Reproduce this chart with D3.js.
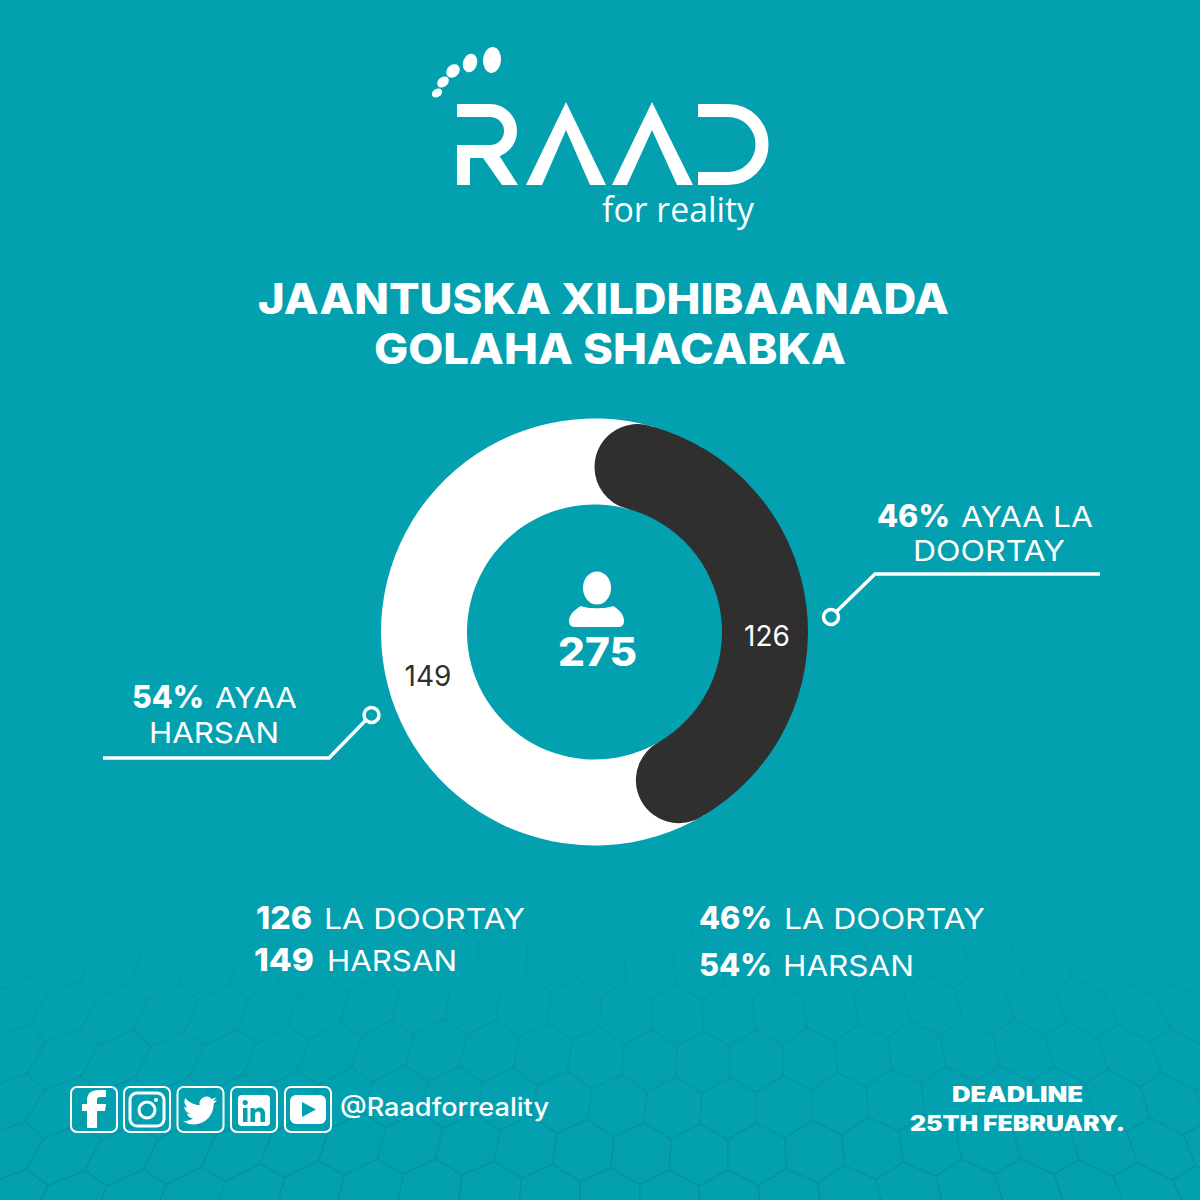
<!DOCTYPE html>
<html><head><meta charset="utf-8">
<script src="https://cdn.jsdelivr.net/npm/d3@7"></script>
<style>html,body{margin:0;padding:0;background:#03a0b0}svg{display:block}text{font-family:Inter,sans-serif}</style>
</head><body><div id="c"></div>
<script>
const categories = ["La doortay", "Harsan"];
const values = [126, 149];
const percents = [46, 54];
const total = 275;
const titleLines = ["JAANTUSKA XILDHIBAANADA", "GOLAHA SHACABKA"];
const colors = ["#2f2f2f", "#ffffff"];
const teal = "#03a0b0";

const svg = d3.select("#c").append("svg").attr("width", 1200).attr("height", 1200);
const defs = svg.append("defs");
const fade = defs.append("linearGradient").attr("id", "fade").attr("x1", 0).attr("x2", 0).attr("y1", 0).attr("y2", 1);
fade.append("stop").attr("offset", 0).attr("stop-color", "#000");
fade.append("stop").attr("offset", .5).attr("stop-color", "#888");
fade.append("stop").attr("offset", 1).attr("stop-color", "#fff");
defs.append("mask").attr("id", "hexmask").attr("maskUnits", "userSpaceOnUse")
  .attr("x", 0).attr("y", 860).attr("width", 1200).attr("height", 340)
  .append("rect").attr("x", 0).attr("y", 860).attr("width", 1200).attr("height", 340).attr("fill", "url(#fade)");
svg.append("rect").attr("width", 1200).attr("height", 1200).attr("fill", teal);

// decorative honeycomb texture
const hexPath = d3.path();
const warp = (x, y) => {
  const t = (y - 860) / 340;
  return [600 + (x - 600) * (0.82 + 0.3 * t) + 10 * Math.sin(y / 70), y + 6 * Math.sin(x / 90)];
};
const R = 31, W = R * Math.sqrt(3), H = R * 1.5;
for (let r = 0; r < 10; r++) for (let q = -3; q < 28; q++) {
  const hx = q * W + (r % 2 ? W / 2 : 0), hy = 870 + r * H;
  for (let k = 0; k < 6; k++) {
    const a = Math.PI / 3 * k - Math.PI / 2;
    const p = warp(hx + R * Math.cos(a), hy + R * Math.sin(a));
    k ? hexPath.lineTo(p[0], p[1]) : hexPath.moveTo(p[0], p[1]);
  }
  hexPath.closePath();
}
svg.append("path").attr("d", hexPath.toString()).attr("fill", "none").attr("stroke", "#078896")
  .attr("stroke-width", 1.2).attr("stroke-opacity", .7).attr("mask", "url(#hexmask)");

// logo
const logo = svg.append("g").attr("fill", "#fff");
[[492,60,9,13,5],[470,63,7,9.5,18],[453,71,6,7.5,45],[443,82,4.8,6.5,50],[437,93,4,5.5,60]].forEach(e =>
  logo.append("ellipse").attr("cx", e[0]).attr("cy", e[1]).attr("rx", e[2]).attr("ry", e[3])
    .attr("transform", `rotate(${e[4]} ${e[0]} ${e[1]})`));
const ls = logo.append("g").attr("fill", "none").attr("stroke", "#fff").attr("stroke-width", 13);
ls.append("path").attr("d", "M457,110.5 H490 A20.5,20.5 0 0 1 490,151.5 H463.5 V185");
ls.append("path").attr("d", "M698,110.5 H728 A34,34 0 0 1 728,178.5 H698");
logo.append("path").attr("d", "M481,155 L497,152 L518,185 H502 Z");
logo.append("path").attr("d", "M566,102 L526,185 H542 L566,130 L590,185 H606 Z");
logo.append("path").attr("d", "M652,102 L612,185 H627 L652,130 L677,185 H693 Z");
svg.append("text").attr("x", 602).attr("y", 222).attr("textLength", 152).attr("lengthAdjust", "spacingAndGlyphs")
  .style("font-family", "'Open Sans'").attr("font-size", 35).attr("fill", "#fff").text("for reality");

// helper for fitted text
function put(str, x0, x1, y, size, weight, fill) {
  return svg.append("text").attr("x", x0).attr("y", y).attr("textLength", x1 - x0)
    .attr("lengthAdjust", "spacingAndGlyphs").attr("font-size", size).attr("font-weight", weight)
    .attr("fill", fill || "#fff").text(str);
}

put(titleLines[0], 258, 949, 314, 43, 800);
put(titleLines[1], 374, 846, 364, 43, 800);

// donut
const cx = 594.5, cy = 632, rOuter = 213.5, rInner = 127.5;
const pie = d3.pie().sort(null).startAngle(0).endAngle(2 * Math.PI);
const arcs = pie(values);
const g = svg.append("g").attr("transform", `translate(${cx},${cy})`);
const dark = arcs[0];
// white band runs under both rounded ends of the dark segment
g.append("path").attr("d", d3.arc().innerRadius(rInner).outerRadius(rOuter)({startAngle: dark.endAngle - 0.28, endAngle: 2 * Math.PI + 0.28}))
  .attr("fill", colors[1]);
g.append("path").attr("d", d3.arc().innerRadius(rInner).outerRadius(rOuter).cornerRadius((rOuter - rInner) / 2)(dark))
  .attr("fill", colors[0]);

svg.append("text").attr("x", 767).attr("y", 646).attr("text-anchor", "middle").attr("font-size", 28).attr("font-weight", 400)
  .attr("fill", "#fff").text(values[0]);
svg.append("text").attr("x", 428).attr("y", 686).attr("text-anchor", "middle").attr("font-size", 28).attr("font-weight", 400)
  .attr("fill", "#2f2f2f").text(values[1]);

// centre icon + total
svg.append("ellipse").attr("cx", 597).attr("cy", 588).attr("rx", 14).attr("ry", 16.5).attr("fill", "#fff");
svg.append("path").attr("fill", "#fff")
  .attr("d", "M581,606 C587,609 607,609 613,606 C620,610 624,615 624,621 Q624,627 618,627 H575 Q569,627 569,621 C569,615 574,610 581,606 Z");
put(String(total), 558, 637, 666, 39, 800);

// callouts
const leader = svg.append("g").attr("fill", "none").attr("stroke", "#fff");
leader.append("path").attr("d", "M836,612 L875,574 H1100").attr("stroke-width", 3.5);
leader.append("circle").attr("cx", 831).attr("cy", 617).attr("r", 7.5).attr("stroke-width", 3.5);
leader.append("path").attr("d", "M366,720 L329,758 H103").attr("stroke-width", 3.5);
leader.append("circle").attr("cx", 371.5).attr("cy", 715).attr("r", 7.5).attr("stroke-width", 3.5);

put(percents[0] + "%", 877, 950, 527, 31, 800);
put("AYAA LA", 961, 1093, 527, 29, 400);
put("DOORTAY", 913, 1065, 561, 29, 400);
put(percents[1] + "%", 132, 204, 708, 31, 800);
put("AYAA", 215, 297, 708, 29, 400);
put("HARSAN", 149, 279, 743, 29, 400);

// summary
put(String(values[0]), 256, 312, 929, 31, 800);
put("LA DOORTAY", 324, 525, 929, 29, 400);
put(String(values[1]), 254, 314, 971, 31, 800);
put("HARSAN", 327, 457, 971, 29, 400);
put(percents[0] + "%", 699, 772, 929, 31, 800);
put("LA DOORTAY", 784, 985, 929, 29, 400);
put(percents[1] + "%", 699, 772, 976, 31, 800);
put("HARSAN", 783, 914, 976, 29, 400);

// social icons
const boxX = [71, 124, 177.5, 231, 285];
svg.selectAll("rect.box").data(boxX).join("rect").attr("class", "box")
  .attr("x", d => d).attr("y", 1087).attr("width", 46).attr("height", 45).attr("rx", 6)
  .attr("fill", "none").attr("stroke", "#fff").attr("stroke-width", 2);
const ic = svg.append("g").attr("fill", "#fff");
ic.append("path").attr("d", "M97,1128 V1111 H105 L106,1104 H97 V1100 Q97,1097 100,1097 H106 V1090 H99 Q87,1090 87,1100 V1104 H82 V1111 H87 V1128 Z");
const insta = svg.append("g").attr("fill", "none").attr("stroke", "#fff");
insta.append("rect").attr("x", 130).attr("y", 1093).attr("width", 34).attr("height", 33).attr("rx", 7).attr("stroke-width", 3);
insta.append("circle").attr("cx", 147).attr("cy", 1110).attr("r", 8).attr("stroke-width", 3);
ic.append("circle").attr("cx", 156).attr("cy", 1100).attr("r", 2);
ic.append("path").attr("transform", "translate(183,1093.5) scale(1.42)")
  .attr("d", "M23.953 4.57a10 10 0 01-2.825.775 4.958 4.958 0 002.163-2.723c-.951.555-2.005.959-3.127 1.184a4.92 4.92 0 00-8.384 4.482C7.69 8.095 4.067 6.13 1.64 3.162a4.822 4.822 0 00-.666 2.475c0 1.71.87 3.213 2.188 4.096a4.904 4.904 0 01-2.228-.616v.06a4.923 4.923 0 003.946 4.827 4.996 4.996 0 01-2.212.085 4.936 4.936 0 004.604 3.417 9.867 9.867 0 01-6.102 2.105c-.39 0-.779-.023-1.17-.067a13.995 13.995 0 007.557 2.209c9.053 0 13.998-7.496 13.998-13.985 0-.21 0-.42-.015-.63A9.935 9.935 0 0024 4.59z");
ic.append("rect").attr("x", 238).attr("y", 1095).attr("width", 32).attr("height", 31).attr("rx", 4);
ic.append("path").attr("fill", teal)
  .attr("d", "M243,1108 h4.5 v14 h-4.5 z M250.5,1108 h4.3 v2 c1,-1.5 2.7,-2.4 4.6,-2.4 c3.7,0 5.6,2.3 5.6,6.2 v8.2 h-4.5 v-7.5 c0,-2 -.8,-3.1 -2.5,-3.1 c-1.8,0 -3,1.2 -3,3.3 v7.3 h-4.5 z");
ic.append("circle").attr("cx", 245.2).attr("cy", 1102.5).attr("r", 2.6).attr("fill", teal);
ic.append("rect").attr("x", 290).attr("y", 1095).attr("width", 36).attr("height", 29).attr("rx", 6);
ic.append("path").attr("fill", teal).attr("d", "M302,1102 L316,1109.5 L302,1117 Z");

put("@Raadforreality", 340, 549, 1116, 25, 500);
put("DEADLINE", 952, 1083, 1102, 21, 900);
put("25TH FEBRUARY.", 910, 1125, 1131, 21, 900);
</script></body></html>
